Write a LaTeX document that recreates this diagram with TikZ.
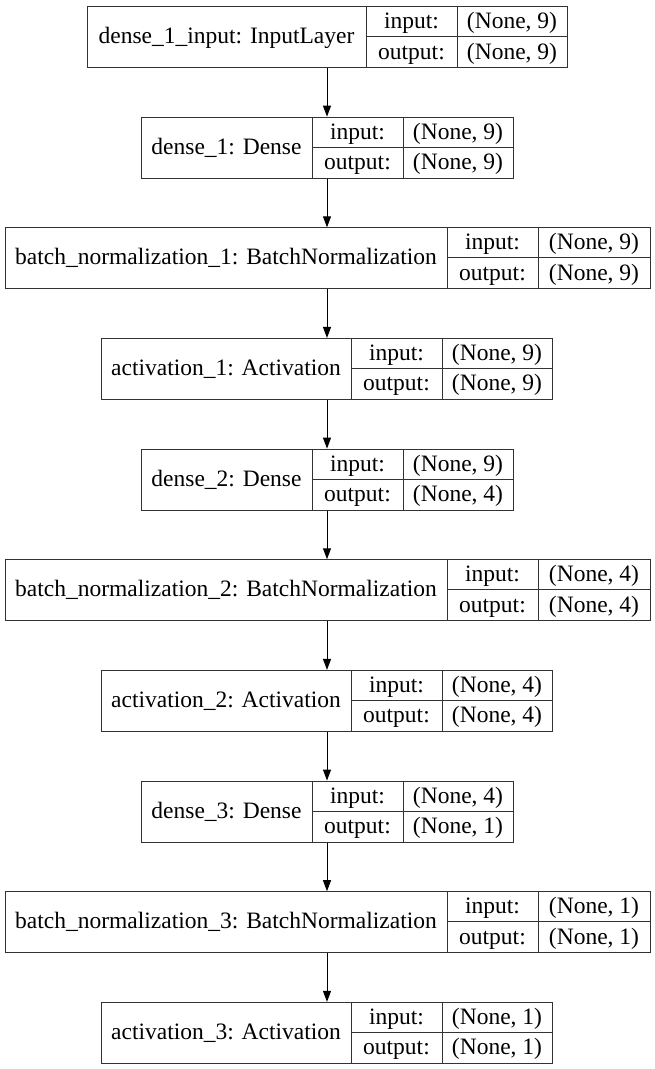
\documentclass[tikz,border=0pt]{standalone}
\usepackage{fontspec}
\setmainfont{Liberation Serif}
\newfontfamily\kfont{Liberation Serif}
\usetikzlibrary{arrows.meta}
\tikzset{
  box/.style={draw=black!80, line width=1pt, inner sep=0pt, minimum height=61pt, anchor=north west},
  divider/.style={draw=black!80, line width=1pt},
  txt/.style={inner sep=0pt, anchor=base, font=\kfont\fontsize{23.5}{26}\selectfont, text=black},
  flow/.style={draw=black, line width=1pt, -{Triangle[length=11pt,width=8pt]}}
}
% #1 name, #2 top, #3 left, #4 right, #5 div1, #6 div2, #7 label, #8 in, #9 out
\newcommand\kerlayer[9]{%
  \node[box, minimum width={(#4-#3)*1pt}] (#1) at ({#3pt},{-#2pt}) {};
  \draw[divider] ({#5pt},{-#2pt}) -- ({#5pt},{-#2pt-61pt});
  \draw[divider] ({#6pt},{-#2pt}) -- ({#6pt},{-#2pt-61pt});
  \draw[divider] ({#5pt},{-#2pt-30.5pt}) -- ({#4pt},{-#2pt-30.5pt});
  \node[txt] (#1-lab) at ({(#3+#5)/2*1pt},{-#2pt-37.5pt}) {#7};
  \node[txt] (#1-ik) at ({(#5+#6)/2*1pt},{-#2pt-22.5pt}) {input:};
  \node[txt] (#1-ok) at ({(#5+#6)/2*1pt},{-#2pt-53pt}) {output:};
  \node[txt] (#1-iv) at ({(#6+#4)/2*1pt},{-#2pt-22.5pt}) {#8};
  \node[txt] (#1-ov) at ({(#6+#4)/2*1pt},{-#2pt-53pt}) {#9};
}
\begin{document}
\begin{tikzpicture}
\useasboundingbox (0,0) rectangle (655pt,-1069pt);
\kerlayer{b1}{6}{87}{567}{366}{457}{dense\_1\_input: InputLayer}{(None, 9)}{(None, 9)}
\kerlayer{b2}{116.65}{141}{513}{312}{403}{dense\_1: Dense}{(None, 9)}{(None, 9)}
\kerlayer{b3}{227.3}{5}{650}{447}{538}{batch\_normalization\_1: BatchNormalization}{(None, 9)}{(None, 9)}
\kerlayer{b4}{337.95}{101}{552}{351}{442}{activation\_1: Activation}{(None, 9)}{(None, 9)}
\kerlayer{b5}{448.6}{141}{513}{312}{403}{dense\_2: Dense}{(None, 9)}{(None, 4)}
\kerlayer{b6}{559.25}{5}{650}{447}{538}{batch\_normalization\_2: BatchNormalization}{(None, 4)}{(None, 4)}
\kerlayer{b7}{669.9}{101}{552}{351}{442}{activation\_2: Activation}{(None, 4)}{(None, 4)}
\kerlayer{b8}{780.55}{141}{513}{312}{403}{dense\_3: Dense}{(None, 4)}{(None, 1)}
\kerlayer{b9}{891.2}{5}{650}{447}{538}{batch\_normalization\_3: BatchNormalization}{(None, 1)}{(None, 1)}
\kerlayer{b10}{1001.85}{101}{552}{351}{442}{activation\_3: Activation}{(None, 1)}{(None, 1)}
\foreach \a/\b in {b1/b2,b2/b3,b3/b4,b4/b5,b5/b6,b6/b7,b7/b8,b8/b9,b9/b10}
  \draw[flow] (327pt,0 |- \a.south) -- (327pt,0 |- \b.north);
\end{tikzpicture}
\end{document}
